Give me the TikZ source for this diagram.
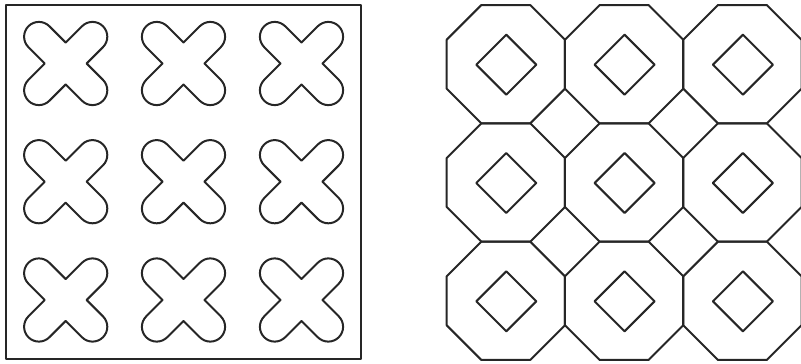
\documentclass[tikz,border=0pt]{standalone}
\begin{document}
\begin{tikzpicture}[x=1pt,y=-1pt,
  ln/.style={line width=2pt,draw=black!85,line join=round},
  crossshape/.pic={
    \draw[ln,rotate=45] (14.8,-14.8) -- (37.9,-14.8) arc(-90:90:14.8) -- (14.8,14.8)
      -- (14.8,37.9) arc(0:180:14.8) -- (-14.8,14.8)
      -- (-37.9,14.8) arc(90:270:14.8) -- (-14.8,-14.8)
      -- (-14.8,-37.9) arc(180:360:14.8) -- cycle;
  },
  octa/.pic={
    \draw[ln] (22.5:64) -- (67.5:64) -- (112.5:64) -- (157.5:64) -- (202.5:64)
      -- (247.5:64) -- (292.5:64) -- (337.5:64) -- cycle;
    \draw[ln] (30.5,0.5) -- (0.5,30.5) -- (-29.5,0.5) -- (0.5,-29.5) -- cycle;
  }]
\useasboundingbox (0,0) rectangle (801,364);
\begin{scope}
\clip (0,0) rectangle (801,364);
% left panel
\draw[ln] (6,4.5) rectangle (361,359);
\foreach \cx in {65.7,183.5,301.5}
  \foreach \cy in {63.5,181.7,300}
    \pic at (\cx,\cy) {crossshape};
% right panel
\foreach \ox in {505.8,624.1,742.4}
  \foreach \oy in {64.2,182.5,300.8}
    \pic at (\ox,\oy) {octa};
\end{scope}
\end{tikzpicture}
\end{document}
